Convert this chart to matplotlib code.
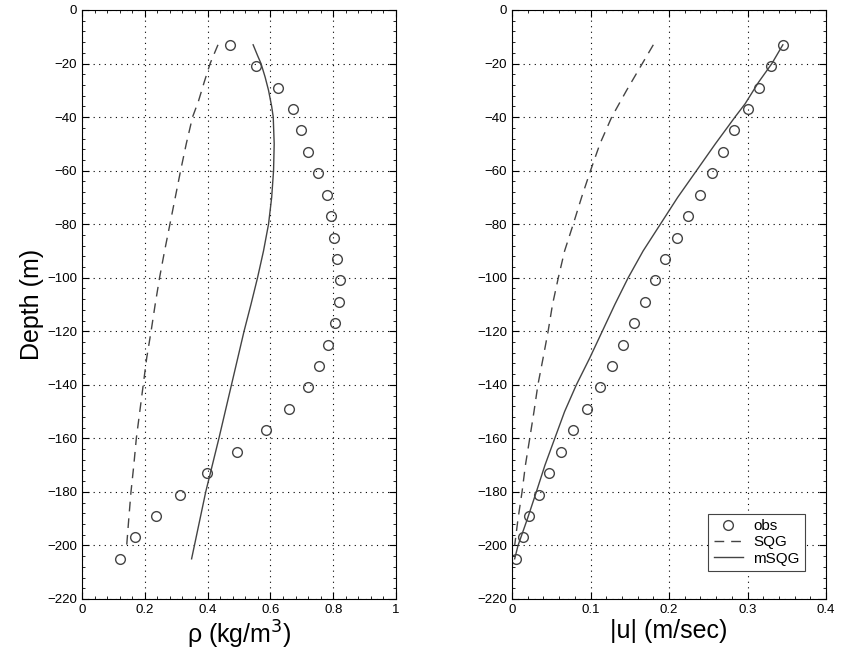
import numpy as np
import matplotlib
matplotlib.use('Agg')
import matplotlib.pyplot as plt
from matplotlib.ticker import MultipleLocator

plt.rcParams['font.family'] = ['Liberation Sans', 'DejaVu Sans']

# 观测深度 (m)
depth_obs = [-13, -21, -29, -37, -45, -53, -61, -69, -77, -85, -93, -101, -109,
             -117, -125, -133, -141, -149, -157, -165, -173, -181, -189, -197, -205]

# 左图：密度
rho_obs = [0.47, 0.554, 0.625, 0.673, 0.696, 0.72, 0.75, 0.78, 0.793, 0.803, 0.812,
           0.82, 0.817, 0.806, 0.783, 0.756, 0.719, 0.66, 0.586, 0.493, 0.397,
           0.313, 0.235, 0.170, 0.122]
depth_sqg_rho = [-13, -20, -27, -34, -40, -50, -60, -70, -80, -90, -100, -110, -120,
                 -130, -140, -150, -160, -170, -180, -190, -200.5]
rho_sqg = [0.433, 0.408, 0.389, 0.371, 0.352, 0.332, 0.314, 0.297, 0.280, 0.263, 0.247,
           0.233, 0.220, 0.206, 0.195, 0.184, 0.173, 0.165, 0.156, 0.149, 0.142]
depth_msqg_rho = [-13, -17, -20, -25, -30, -36, -40, -50, -60, -70, -80, -90, -100,
                  -110, -120, -140, -160, -180, -205]
rho_msqg = [0.545, 0.559, 0.570, 0.583, 0.594, 0.604, 0.609, 0.612, 0.610, 0.604,
            0.594, 0.578, 0.559, 0.538, 0.516, 0.476, 0.436, 0.394, 0.349]

# 右图：流速
u_obs = [0.345, 0.330, 0.315, 0.300, 0.283, 0.269, 0.255, 0.240, 0.224, 0.210, 0.195,
         0.182, 0.169, 0.156, 0.142, 0.127, 0.112, 0.095, 0.078, 0.063, 0.047, 0.034,
         0.022, 0.0137, 0.005]
depth_sqg_u = [-13, -20, -30, -40, -50, -60, -70, -80, -90, -100, -110, -120, -130,
               -140, -150, -160, -170, -180, -190, -200]
u_sqg = [0.180, 0.166, 0.146, 0.127, 0.112, 0.100, 0.0886, 0.078, 0.067, 0.059, 0.0516,
         0.046, 0.0396, 0.033, 0.028, 0.0226, 0.0171, 0.0128, 0.0077, 0.0034]
depth_msqg_u = [-13, -20, -27, -35, -40, -50, -60, -70, -80, -90, -100, -110, -120,
                -130, -140, -150, -160, -170, -180, -190, -200, -205]
u_msqg = [0.345, 0.331, 0.314, 0.297, 0.284, 0.259, 0.235, 0.211, 0.189, 0.167, 0.148,
          0.131, 0.115, 0.099, 0.082, 0.067, 0.0545, 0.042, 0.031, 0.0197, 0.0077, 0.0034]

gray = '#444444'

fig = plt.figure(figsize=(8.41, 6.62), dpi=100)
ax1 = fig.add_axes([0.0975, 0.0952, 0.3734, 0.8897])
ax2 = fig.add_axes([0.6088, 0.0952, 0.3734, 0.8897])


def style_axes(ax, xminor):
    ax.set_ylim(-220, 0)
    ax.set_yticks(np.arange(-220, 1, 20))
    ax.yaxis.set_minor_locator(MultipleLocator(4))
    ax.xaxis.set_minor_locator(MultipleLocator(xminor))
    ax.grid(True, which='major', linestyle=(0, (1, 4)), color='black', linewidth=0.8)
    ax.tick_params(which='major', direction='in', top=True, right=True, labelsize=9.5, length=5)
    ax.tick_params(which='minor', direction='in', top=True, right=True, length=2, width=0.6)
    for s in ax.spines.values():
        s.set_linewidth(0.8)


# 左图
ax1.plot(rho_obs, depth_obs, 'o', mfc='none', mec=gray, ms=7, mew=1.0, label='obs')
ax1.plot(rho_sqg, depth_sqg_rho, color=gray, lw=1.0, dashes=(7, 5), label='SQG')
ax1.plot(rho_msqg, depth_msqg_rho, color=gray, lw=1.0, label='mSQG')
ax1.set_xlim(0, 1)
ax1.set_xticks([0, 0.2, 0.4, 0.6, 0.8, 1])
ax1.set_xticklabels(['0', '0.2', '0.4', '0.6', '0.8', '1'])
style_axes(ax1, 0.04)
ax1.set_xlabel(r'ρ (kg/m$^3$)', fontsize=18, labelpad=2)
ax1.set_ylabel('Depth (m)', fontsize=18, labelpad=2)

# 右图
ax2.plot(u_obs, depth_obs, 'o', mfc='none', mec=gray, ms=7, mew=1.0, label='obs')
ax2.plot(u_sqg, depth_sqg_u, color=gray, lw=1.0, dashes=(7, 5), label='SQG')
ax2.plot(u_msqg, depth_msqg_u, color=gray, lw=1.0, label='mSQG')
ax2.set_xlim(0, 0.4)
ax2.set_xticks([0, 0.1, 0.2, 0.3, 0.4])
ax2.set_xticklabels(['0', '0.1', '0.2', '0.3', '0.4'])
style_axes(ax2, 0.02)
ax2.set_xlabel('|u| (m/sec)', fontsize=18, labelpad=2)

leg = ax2.legend(loc='lower right', bbox_to_anchor=(0.933, 0.0475), borderaxespad=0,
                 fontsize=11, fancybox=False, framealpha=1, edgecolor=gray,
                 handlelength=1.9, borderpad=0.35, labelspacing=0.15, handletextpad=0.7)
leg.get_frame().set_linewidth(0.8)

fig.savefig('out.png', dpi=100)
